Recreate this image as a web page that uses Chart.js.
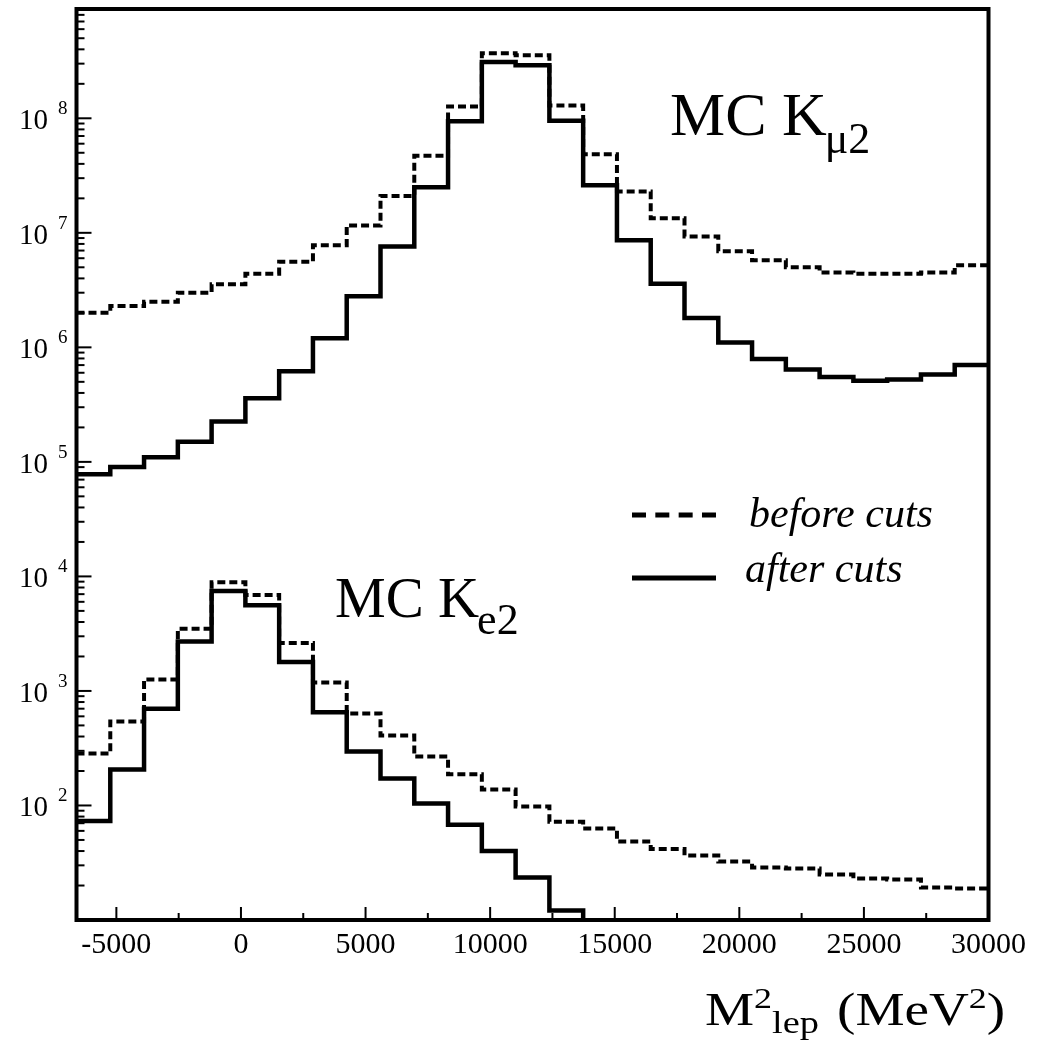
<!DOCTYPE html>
<html><head><meta charset="utf-8">
<script src="https://cdn.jsdelivr.net/npm/chart.js@4.4.1/dist/chart.umd.min.js"></script>
<style>html,body{margin:0;padding:0;background:#fff;}canvas{display:block;}</style>
</head><body>
<canvas id="c" width="1042" height="1041"></canvas>
<script>
// ---- data ----
const binEdges = [-6600, -5244, -3889, -2533, -1178, 178, 1533, 2889, 4244, 5600, 6956, 8311, 9667, 11022,
  12378, 13733, 15089, 16444, 17800, 19156, 20511, 21867, 23222, 24578, 25933, 27289, 28644, 30000];
const kmu2Before = [2.0e6, 2.3e6, 2.5e6, 3.0e6, 3.55e6, 4.4e6, 5.6e6, 7.8e6, 1.16e7, 2.1e7, 4.7e7, 1.27e8, 3.7e8, 3.55e8,
  1.29e8, 4.85e7, 2.3e7, 1.34e7, 9.3e6, 6.9e6, 5.75e6, 5.0e6, 4.5e6, 4.4e6, 4.4e6, 4.5e6, 5.2e6];
const kmu2After = [7.8e4, 9.0e4, 1.1e5, 1.5e5, 2.25e5, 3.6e5, 6.2e5, 1.2e6, 2.8e6, 7.6e6, 2.5e7, 9.4e7, 3.1e8, 2.9e8,
  9.5e7, 2.6e7, 8.6e6, 3.6e6, 1.8e6, 1.1e6, 7.9e5, 6.4e5, 5.5e5, 5.1e5, 5.25e5, 5.8e5, 7.0e5];
const ke2Before = [284, 542, 1260, 3500, 8870, 6870, 2625, 1186, 636, 408, 268, 187, 138, 98,
  72, 63, 48.5, 41.7, 36.6, 32.4, 28.8, 28.2, 24.9, 23.0, 22.6, 19.2, 18.8];
const ke2After = [73, 206, 700, 2700, 7440, 5600, 1790, 650, 296, 172, 104, 68, 40, 23.5,
  12.1, 0, 0, 0, 0, 0, 0, 0, 0, 0, 0, 0, 0];
const xTickValues = [-5000, 0, 5000, 10000, 15000, 20000, 25000, 30000];
const xTickLabels = ['-5000', '0', '5000', '10000', '15000', '20000', '25000', '30000'];
const yDecades = [2, 3, 4, 5, 6, 7, 8];
const legendLabels = ['before cuts', 'after cuts'];
const xRange = [-6600, 30000];
const yRange = [10, 9e8];

const SERIF = '"Liberation Serif", "Times New Roman", serif';
const EMPTY = 1; // empty bin: below the axis minimum

function histPoints(vals) {
  const pts = vals.map((v, i) => ({ x: binEdges[i], y: v > 0 ? v : EMPTY }));
  pts.push({ x: binEdges[vals.length], y: pts[pts.length - 1].y });
  return pts;
}
const dashPattern = [8, 4];
function ds(label, vals, dashed) {
  return {
    label, data: histPoints(vals), stepped: 'before', borderColor: '#000',
    borderWidth: dashed ? 4 : 4.5, borderDash: dashed ? dashPattern : [],
    borderCapStyle: 'butt', borderJoinStyle: 'miter', pointRadius: 0, fill: false, tension: 0
  };
}

function txt(ctx, t, x, y, size, opts) {
  opts = opts || {};
  const sx = opts.sx || 1;
  ctx.font = (opts.italic ? 'italic ' : '') + size + 'px ' + SERIF;
  ctx.textAlign = opts.align || 'left';
  ctx.textBaseline = 'alphabetic';
  ctx.save(); ctx.translate(x, y); ctx.scale(sx, 1); ctx.fillText(t, 0, 0); ctx.restore();
  return ctx.measureText(t).width * sx;
}

const framePlugin = {
  id: 'frame',
  afterDatasetsDraw(chart) {
    const ctx = chart.ctx, a = chart.chartArea, xs = chart.scales.x, ys = chart.scales.y;
    ctx.save();
    ctx.strokeStyle = '#000'; ctx.fillStyle = '#000'; ctx.setLineDash([]);
    // y ticks (inward)
    ctx.lineWidth = 2;
    for (let e = 1; e <= 8; e++) {
      for (let m = 1; m <= 9; m++) {
        const v = m * Math.pow(10, e);
        if (v < yRange[0] || v > yRange[1]) continue;
        const y = ys.getPixelForValue(v);
        const len = m === 1 ? 15 : 8;
        ctx.beginPath(); ctx.moveTo(a.left, y); ctx.lineTo(a.left + len, y); ctx.stroke();
      }
    }
    // x ticks (inward)
    for (let i = 0; i < xTickValues.length; i++) {
      const x = xs.getPixelForValue(xTickValues[i]);
      ctx.beginPath(); ctx.moveTo(x, a.bottom); ctx.lineTo(x, a.bottom - 13); ctx.stroke();
      if (i > 0) {
        const xm = xs.getPixelForValue((xTickValues[i] + xTickValues[i - 1]) / 2);
        ctx.beginPath(); ctx.moveTo(xm, a.bottom); ctx.lineTo(xm, a.bottom - 7); ctx.stroke();
      }
    }
    // frame
    ctx.lineWidth = 4;
    ctx.strokeRect(a.left, a.top, a.right - a.left, a.bottom - a.top);
    ctx.restore();
  },
  afterDraw(chart) {
    const ctx = chart.ctx, xs = chart.scales.x, ys = chart.scales.y;
    ctx.save();
    ctx.fillStyle = '#000'; ctx.strokeStyle = '#000';
    // x tick labels
    xTickValues.forEach((v, i) => {
      txt(ctx, xTickLabels[i], xs.getPixelForValue(v), 953, 30, { align: 'center' });
    });
    // y tick labels 10^n
    yDecades.forEach(e => {
      const y = ys.getPixelForValue(Math.pow(10, e));
      txt(ctx, '10', 19, y + 11, 29);
      txt(ctx, String(e), 58, y - 4, 19);
    });
    // legend
    const lx0 = 632, lx1 = 716;
    ctx.lineWidth = 5; ctx.lineCap = 'butt';
    ctx.setLineDash([14, 9.33]);
    ctx.beginPath(); ctx.moveTo(lx0, 515); ctx.lineTo(lx1, 515); ctx.stroke();
    ctx.setLineDash([]);
    ctx.beginPath(); ctx.moveTo(lx0, 578); ctx.lineTo(lx1, 578); ctx.stroke();
    txt(ctx, legendLabels[0], 749, 527, 42, { italic: true });
    txt(ctx, legendLabels[1], 745, 582, 42, { italic: true });
    // annotations
    let w = txt(ctx, 'MC K', 670, 135, 62);
    txt(ctx, 'μ2', 668 + w, 153, 44);
    w = txt(ctx, 'MC K', 335, 617, 57);
    txt(ctx, 'e2', 333 + w, 634, 44);
    // axis title  M²lep (MeV²)
    const sx = 1.2;
    let x = 705;
    x += txt(ctx, 'M', x, 1025, 46, { sx });
    x += txt(ctx, '2', x, 1008, 30, { sx });
    x += txt(ctx, 'lep', x, 1033, 32, { sx });
    x += 18;
    x += txt(ctx, '(MeV', x, 1025, 46, { sx });
    x += txt(ctx, '2', x, 1008, 30, { sx });
    txt(ctx, ')', x, 1025, 46, { sx });
    ctx.restore();
  }
};

new Chart(document.getElementById('c'), {
  type: 'line',
  data: {
    datasets: [
      ds('K\u03bc2 ' + legendLabels[0], kmu2Before, true),
      ds('K\u03bc2 ' + legendLabels[1], kmu2After, false),
      ds('Ke2 ' + legendLabels[0], ke2Before, true),
      ds('Ke2 ' + legendLabels[1], ke2After, false)
    ]
  },
  options: {
    responsive: false, animation: false, events: [],
    layout: { padding: { left: 76.5, top: 9, right: 53.5, bottom: 121 } },
    plugins: { legend: { display: false }, tooltip: { enabled: false } },
    scales: {
      x: { type: 'linear', min: xRange[0], max: xRange[1], display: false },
      y: { type: 'logarithmic', min: yRange[0], max: yRange[1], display: false }
    }
  },
  plugins: [framePlugin]
});
</script>
</body></html>
